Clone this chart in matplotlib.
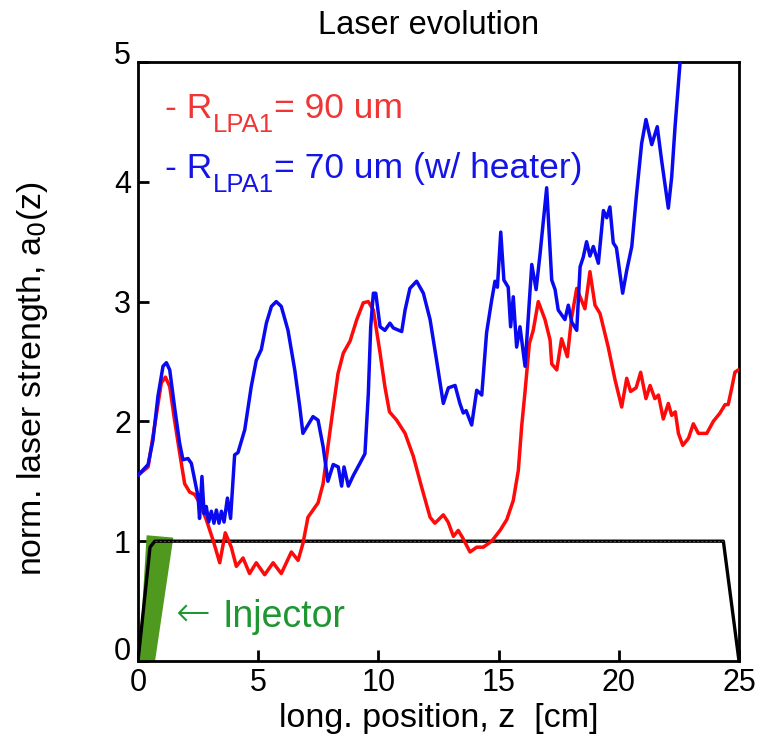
import matplotlib
matplotlib.use('Agg')
import matplotlib.pyplot as plt
import matplotlib.transforms as mtransforms
from matplotlib.patches import Polygon

plt.rcParams['font.family'] = ['Liberation Sans', 'DejaVu Sans']

# ---------------- data ----------------
blue_z = [0.0, 0.42, 0.62, 0.83, 1.04, 1.18, 1.32, 1.52, 1.73, 1.87, 2.08, 2.22, 2.36, 2.5,
          2.56, 2.66, 2.75, 2.84, 2.94, 3.05, 3.16, 3.26, 3.37, 3.47, 3.58, 3.72, 3.85,
          4.02, 4.16, 4.44, 4.71, 4.92, 5.13, 5.34, 5.55, 5.75, 5.96, 6.24, 6.52, 6.73,
          6.86, 7.07, 7.28, 7.49, 7.7, 7.9, 8.12, 8.33, 8.47, 8.57, 8.75, 8.96, 9.23,
          9.44, 9.58, 9.68, 9.79, 9.89, 10.07, 10.27, 10.48, 10.62, 10.97, 11.11, 11.31,
          11.59, 11.87, 12.15, 12.42, 12.7, 12.91, 13.19, 13.39, 13.53, 13.65, 13.88,
          14.09, 14.3, 14.5, 14.71, 14.85, 14.95, 15.09, 15.22, 15.4, 15.5, 15.61, 15.75,
          15.89, 16.1, 16.38, 16.56, 16.72, 17.0, 17.21, 17.35, 17.48, 17.76, 17.9, 18.04,
          18.25, 18.39, 18.52, 18.66, 18.8, 18.94, 19.15, 19.36, 19.5, 19.63, 19.77,
          19.9, 20.16, 20.33, 20.54, 20.74, 20.95, 21.13, 21.37, 21.6, 21.78, 22.06,
          22.2, 22.34, 22.55, 22.65]
blue_a = [1.55, 1.64, 1.84, 2.21, 2.46, 2.49, 2.43, 2.12, 1.82, 1.68, 1.69, 1.65, 1.51, 1.37,
          1.19, 1.54, 1.23, 1.29, 1.16, 1.25, 1.15, 1.26, 1.15, 1.25, 1.16, 1.36, 1.19,
          1.72, 1.74, 1.93, 2.29, 2.51, 2.6, 2.82, 2.96, 3.0, 2.96, 2.76, 2.43, 2.12,
          1.9, 1.97, 2.04, 2.01, 1.79, 1.5, 1.64, 1.62, 1.46, 1.62, 1.46, 1.55, 1.65,
          1.73, 2.23, 2.79, 3.07, 3.07, 2.79, 2.76, 2.82, 2.78, 2.75, 2.93, 3.11,
          3.17, 3.07, 2.85, 2.51, 2.15, 2.28, 2.3, 2.15, 2.07, 2.09, 1.97,
          2.26, 2.22, 2.74, 3.01, 3.17, 3.12, 3.58, 3.18, 3.12, 2.79, 3.04, 2.62,
          2.79, 2.46, 3.31, 3.1, 3.39, 3.95, 3.18, 3.1, 2.93, 2.85, 2.97, 2.83,
          2.76, 3.29, 3.37, 3.5, 3.38, 3.46, 3.32, 3.76, 3.7, 3.79, 3.49,
          3.45, 3.07, 3.26, 3.46, 3.9, 4.32, 4.52, 4.31, 4.46, 4.18, 3.78,
          4.04, 4.46, 5.0, 5.25]

red_z = [0.0, 0.42, 0.69, 0.97, 1.14, 1.32, 1.52, 1.73, 1.94, 2.15, 2.36, 2.56, 2.84, 3.12,
         3.4, 3.63, 3.88, 4.09, 4.37, 4.64, 4.92, 5.27, 5.62, 5.96, 6.38, 6.66, 6.86,
         7.07, 7.49, 7.7, 7.9, 8.11, 8.32, 8.54, 8.82, 9.1, 9.37, 9.58, 9.79, 10.07,
         10.27, 10.46, 10.76, 11.11, 11.45, 11.8, 12.15, 12.35, 12.7, 12.9, 13.12, 13.32,
         13.5, 13.81, 14.09, 14.36, 14.71, 15.06, 15.34, 15.61, 15.82, 15.96, 16.1,
         16.28, 16.44, 16.65, 16.93, 17.14, 17.21, 17.42, 17.62, 17.86, 18.04, 18.25,
         18.59, 18.8, 19.01, 19.22, 19.56, 19.84, 20.12, 20.33, 20.49, 20.72, 20.91,
         21.13, 21.3, 21.5, 21.65, 21.85, 22.06, 22.2, 22.35, 22.48, 22.66, 22.9, 23.1,
         23.31, 23.66, 23.93, 24.21, 24.42, 24.55, 24.7, 24.83, 24.97]
red_a = [1.55, 1.62, 1.96, 2.32, 2.37, 2.29, 2.01, 1.74, 1.48, 1.41, 1.39, 1.32, 1.18, 1.01,
         0.82, 1.07, 0.95, 0.79, 0.86, 0.73, 0.82, 0.72, 0.82, 0.73, 0.91, 0.84, 0.98,
         1.2, 1.32, 1.48, 1.79, 2.1, 2.4, 2.57, 2.67, 2.85, 2.99, 3.0, 2.93, 2.57,
         2.29, 2.08, 2.01, 1.9, 1.71, 1.45, 1.2, 1.15, 1.22, 1.16, 1.04, 1.09,
         1.03, 0.91, 0.95, 0.95, 1.0, 1.09, 1.18, 1.34, 1.59, 1.96, 2.25,
         2.65, 2.76, 3.0, 2.85, 2.68, 2.48, 2.43, 2.69, 2.54, 2.87, 3.11,
         2.94, 3.25, 2.97, 2.9, 2.62, 2.35, 2.12, 2.36, 2.25, 2.28, 2.41,
         2.19, 2.3, 2.19, 2.22, 2.02, 2.15, 2.05, 2.08, 1.9, 1.8, 1.86, 1.98,
         1.9, 1.9, 2.0, 2.07, 2.14, 2.14, 2.28, 2.41, 2.43]

profile_z = [0.0, 0.5, 0.7, 24.35, 25.0]
profile_a = [0.0, 0.95, 1.0, 1.0, 0.0]

injector_z = [0.04, 0.71, 1.47, 0.36]
injector_a = [0.0, 0.0, 1.03, 1.05]

x_ticks = [0, 5, 10, 15, 20, 25]
y_ticks = [0, 1, 2, 3, 4, 5]

# ---------------- figure ----------------
fig = plt.figure(figsize=(7.58, 7.36), dpi=100)
ax = fig.add_axes([138/758, 1 - 661/736, (739 - 138)/758, (661 - 62)/736])

ax.add_patch(Polygon(list(zip(injector_z, injector_a)), closed=True,
                     facecolor='#4f9a1e', edgecolor='none', zorder=2))
ax.plot(profile_z, profile_a, color='black', lw=2.4, zorder=3,
        solid_joinstyle='round')
ax.plot(profile_z[2:4], profile_a[2:4], color='white', lw=0.5, ls=(0, (3, 3)),
        alpha=0.45, zorder=3.1)
ax.plot(red_z, red_a, color='#ff0a0a', lw=2.5, zorder=4,
        solid_joinstyle='round', solid_capstyle='round')
ax.plot(blue_z, blue_a, color='#0a0af0', lw=2.5, zorder=5,
        solid_joinstyle='round', solid_capstyle='round')

ax.set_xlim(0, 25)
ax.set_ylim(0, 5)
ax.set_xticks(x_ticks)
ax.set_yticks(y_ticks)
ax.tick_params(direction='in', length=8, width=2, top=False, right=False,
               labelsize=22, pad=5)
for s in ax.spines.values():
    s.set_linewidth(2)

ax.set_xlabel('long. position, z  [cm]', fontsize=24.5, labelpad=4)
ax.set_ylabel('norm. laser strength, a$_0$(z)', fontsize=24.4)
ax.yaxis.set_label_coords(-0.146, 0.471)
ax.set_title('Laser evolution', fontsize=23.5, pad=20, x=0.484)


def series_label(x, y, rest, color):
    t1 = ax.text(x, y, '- R', color=color, fontsize=25.5, ha='left', va='baseline')
    t2 = ax.annotate('LPA1', xy=(1, 0), xycoords=t1, xytext=(0.5, -8.5),
                     textcoords='offset points', ha='left', va='bottom',
                     fontsize=18.5, color=color)
    ax.annotate(rest, xy=(1, 0), xycoords=(t2, t1), xytext=(0, 0),
                textcoords='offset points', ha='left', va='bottom',
                fontsize=25.5, color=color)


series_label(1.12, 4.53, '= 90 um', '#f03535')
series_label(1.12, 4.03, '= 70 um (w/ heater)', '#1414e6')

injector_color = '#1e9632'
arrow_t = ax.text(1.6, 0.295, '\u2190', color=injector_color, fontsize=30,
                  family=['DejaVu Sans'], fontweight='light',
                  ha='left', va='baseline')
ax.annotate('Injector', xy=(1, 0.284), xycoords=(arrow_t, 'data'), xytext=(8, 0),
            textcoords='offset points', ha='left', va='baseline',
            fontsize=27, color=injector_color)

# shift outer y tick labels up as in the reference
for tick, dy in zip(ax.yaxis.get_major_ticks(), [13, 0, 0, 0, 0, 10]):
    if dy:
        lab = tick.label1
        lab.set_transform(lab.get_transform() +
                          mtransforms.ScaledTranslation(0, dy/100, fig.dpi_scale_trans))

fig.savefig('out.png', dpi=100)
